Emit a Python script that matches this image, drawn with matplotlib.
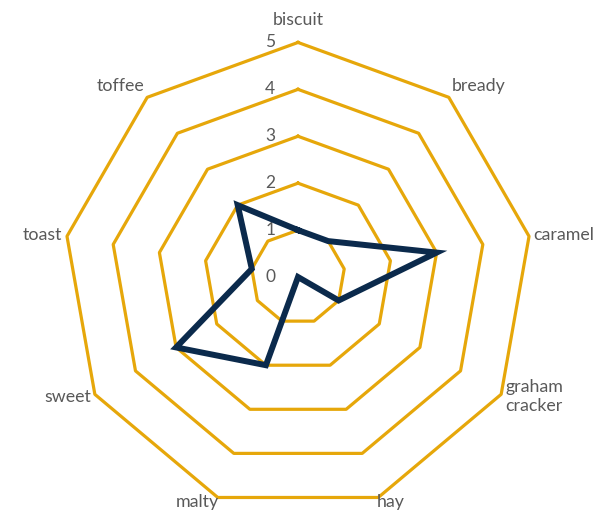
import numpy as np
import matplotlib.pyplot as plt

categories = ['biscuit', 'bready', 'caramel', 'graham\ncracker', 'hay',
              'malty', 'sweet', 'toast', 'toffee']
values = [1, 1, 3, 1, 0, 2, 3, 1, 2]
ring_levels = [1, 2, 3, 4, 5]
axis_labels = [0, 1, 2, 3, 4, 5]

plt.rcParams['font.family'] = ['Lato', 'DejaVu Sans']

fig = plt.figure(figsize=(6.08, 5.17), dpi=100)
ax = fig.add_axes([0.1043, 0.0104, 0.7717, 0.9075], projection='polar')
ax.set_theta_offset(np.pi / 2)
ax.set_theta_direction(-1)
ax.set_ylim(0, 5)
ax.grid(False)
ax.set_xticks([])
ax.set_yticks([])
ax.spines['polar'].set_visible(False)
ax.patch.set_visible(False)

n = len(categories)
angles = np.linspace(0, 2 * np.pi, n, endpoint=False)
closed = np.append(angles, angles[0])

# polygon rings
for r in ring_levels:
    ax.plot(closed, [r] * (n + 1), color='#e6a70a', lw=2.3, clip_on=False, zorder=1)

# data line
ax.plot(closed, values + values[:1], color='#0b2a4c', lw=4.3, clip_on=False,
        zorder=3, solid_joinstyle='miter')

# radial value labels
for v in axis_labels:
    ax.annotate(str(v), xy=(0, v), xytext=(-20, 0), textcoords='offset points',
                ha='center', va='center', fontsize=12.5, color='#595959', zorder=2)

# category labels
for a, lab in zip(angles, categories):
    x = np.sin(a)
    y = np.cos(a)
    ha = 'left' if x > 0.1 else ('right' if x < -0.1 else 'center')
    va = 'bottom' if y > 0.6 else ('top' if y < -0.6 else 'center')
    if abs(x) < 0.1:
        rr = 5.3
    elif y < -0.6:
        rr = 4.93
    else:
        rr = 5.1
    ax.text(a, rr, lab, ha=ha, va=va, fontsize=12.8, color='#595959',
            linespacing=1.2)

fig.savefig('out.png', dpi=100)
